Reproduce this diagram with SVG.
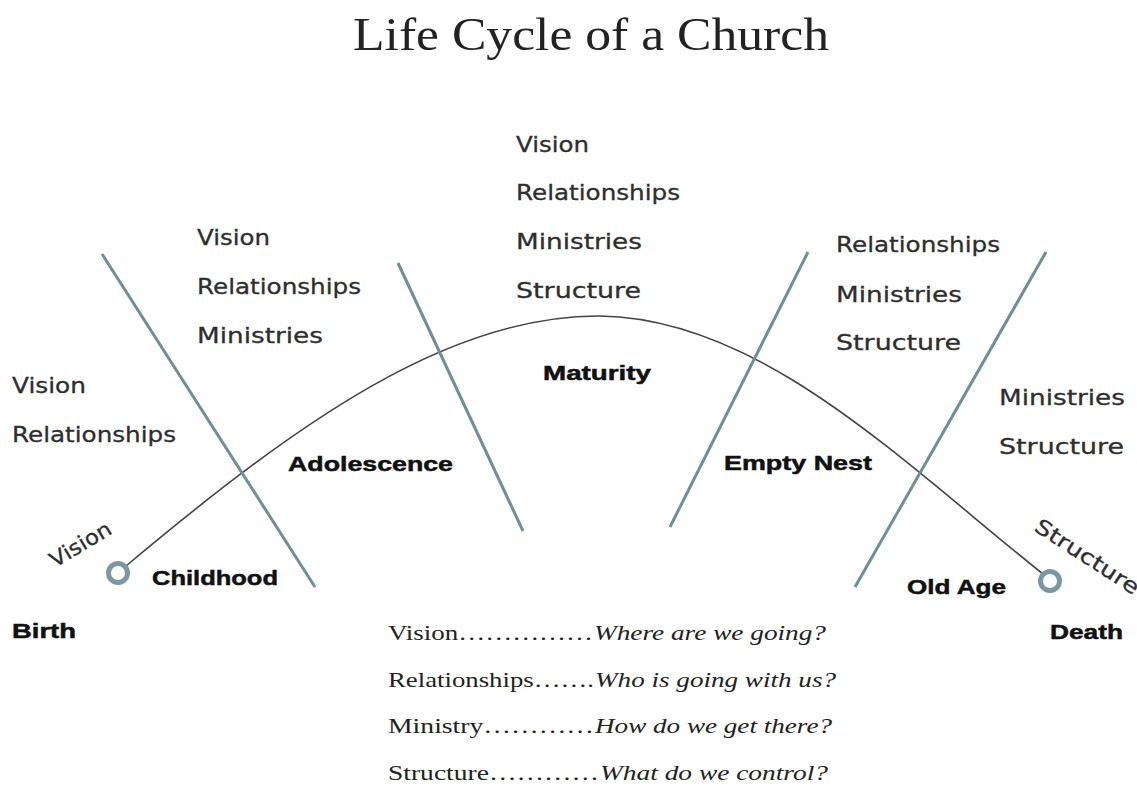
<svg xmlns="http://www.w3.org/2000/svg" width="1137" height="791" viewBox="0 0 1137 791">
  <style>
    .title { font-family: "Liberation Serif", serif; font-size: 46px; fill: #222; }
    .hand { font-family: "DejaVu Sans", "Open Sans", sans-serif; font-size: 21px; fill: #2e2e2e; stroke: #2e2e2e; stroke-width: 0.3; }
    .stage { font-family: "Liberation Sans", Arial, sans-serif; font-size: 21px; font-weight: bold; fill: #111; stroke: #111; stroke-width: 0.5; }
    .key { font-family: "Liberation Serif", serif; font-size: 21px; fill: #222; }
    .ans { font-family: "Liberation Serif", serif; font-size: 21px; font-style: italic; fill: #222; }
    .divider { stroke: #6f8e99; stroke-width: 3; fill: none; }
    .curve { stroke: #444; stroke-width: 1.6; fill: none; }
    .ring { stroke: #7a98a4; stroke-width: 5; fill: #fff; }
  </style>
  <rect width="1137" height="791" fill="#fff"/>

  <text class="title" x="591" y="50" text-anchor="middle" textLength="476" lengthAdjust="spacingAndGlyphs">Life Cycle of a Church</text>

  <!-- stage dividers and life curve -->
  <g id="connectors">
    <path class="curve" d="M126,566 C300,420 450,315 600,316 C760,318 900,460 1043,574"/>
    <line class="divider" x1="102" y1="254" x2="315" y2="587"/>
    <line class="divider" x1="398" y1="263" x2="523" y2="531"/>
    <line class="divider" x1="808" y1="252" x2="670" y2="527"/>
    <line class="divider" x1="1046" y1="252" x2="855" y2="587"/>
  </g>

  <g id="birth">
    <circle class="ring" cx="118" cy="573" r="9.5"/>
    <text class="stage" x="12" y="638" textLength="64" lengthAdjust="spacingAndGlyphs">Birth</text>
    <text class="hand" transform="translate(55,568) rotate(-31)" textLength="68" lengthAdjust="spacingAndGlyphs">Vision</text>
  </g>

  <g id="childhood">
    <text class="stage" x="152" y="585" textLength="126" lengthAdjust="spacingAndGlyphs">Childhood</text>
    <text class="hand" x="12" y="393" textLength="74" lengthAdjust="spacingAndGlyphs">Vision</text>
    <text class="hand" x="12" y="442" textLength="164" lengthAdjust="spacingAndGlyphs">Relationships</text>
  </g>

  <g id="adolescence">
    <text class="stage" x="288" y="471" textLength="165" lengthAdjust="spacingAndGlyphs">Adolescence</text>
    <text class="hand" x="197" y="245" textLength="73" lengthAdjust="spacingAndGlyphs">Vision</text>
    <text class="hand" x="197" y="294" textLength="164" lengthAdjust="spacingAndGlyphs">Relationships</text>
    <text class="hand" x="197" y="343" textLength="126" lengthAdjust="spacingAndGlyphs">Ministries</text>
  </g>

  <g id="maturity">
    <text class="stage" x="543" y="380" textLength="108" lengthAdjust="spacingAndGlyphs">Maturity</text>
    <text class="hand" x="516" y="152" textLength="73" lengthAdjust="spacingAndGlyphs">Vision</text>
    <text class="hand" x="516" y="200" textLength="164" lengthAdjust="spacingAndGlyphs">Relationships</text>
    <text class="hand" x="516" y="249" textLength="126" lengthAdjust="spacingAndGlyphs">Ministries</text>
    <text class="hand" x="516" y="298" textLength="125" lengthAdjust="spacingAndGlyphs">Structure</text>
  </g>

  <g id="empty-nest">
    <text class="stage" x="724" y="470" textLength="148" lengthAdjust="spacingAndGlyphs">Empty Nest</text>
    <text class="hand" x="836" y="252" textLength="164" lengthAdjust="spacingAndGlyphs">Relationships</text>
    <text class="hand" x="836" y="302" textLength="126" lengthAdjust="spacingAndGlyphs">Ministries</text>
    <text class="hand" x="836" y="350" textLength="125" lengthAdjust="spacingAndGlyphs">Structure</text>
  </g>

  <g id="old-age">
    <text class="stage" x="907" y="594" textLength="99" lengthAdjust="spacingAndGlyphs">Old Age</text>
    <text class="hand" x="999" y="405" textLength="126" lengthAdjust="spacingAndGlyphs">Ministries</text>
    <text class="hand" x="999" y="454" textLength="125" lengthAdjust="spacingAndGlyphs">Structure</text>
  </g>

  <g id="death">
    <circle class="ring" cx="1050" cy="581" r="9.5"/>
    <text class="stage" x="1050" y="639" textLength="73" lengthAdjust="spacingAndGlyphs">Death</text>
    <text class="hand" transform="translate(1033,530) rotate(33)" textLength="120" lengthAdjust="spacingAndGlyphs">Structure</text>
  </g>

  <!-- key -->
  <g id="legend">
    <text class="key" x="388" y="640" textLength="205" lengthAdjust="spacingAndGlyphs">Vision……………</text>
    <text class="ans" x="594" y="640" textLength="232" lengthAdjust="spacingAndGlyphs">Where are we going?</text>
    <text class="key" x="388" y="687" textLength="206" lengthAdjust="spacingAndGlyphs">Relationships…….</text>
    <text class="ans" x="595" y="687" textLength="241" lengthAdjust="spacingAndGlyphs">Who is going with us?</text>
    <text class="key" x="388" y="733" textLength="206" lengthAdjust="spacingAndGlyphs">Ministry…………</text>
    <text class="ans" x="595" y="733" textLength="237" lengthAdjust="spacingAndGlyphs">How do we get there?</text>
    <text class="key" x="388" y="780" textLength="211" lengthAdjust="spacingAndGlyphs">Structure…………</text>
    <text class="ans" x="600" y="780" textLength="228" lengthAdjust="spacingAndGlyphs">What do we control?</text>
  </g>
</svg>
